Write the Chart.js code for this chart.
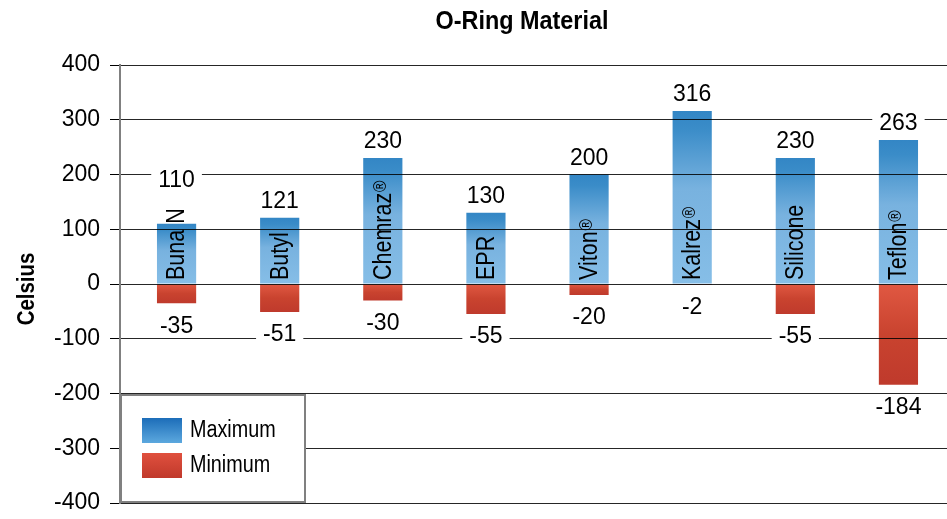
<!DOCTYPE html>
<html>
<head>
<meta charset="utf-8">
<title>O-Ring Material</title>
<script src="https://cdn.jsdelivr.net/npm/chart.js@4.4.1/dist/chart.umd.min.js"></script>
<style>
  html, body { margin: 0; padding: 0; background: #fff; }
  #wrap { width: 947px; height: 519px; }
</style>
</head>
<body>
<div id="wrap"><canvas id="oring" width="947" height="519"></canvas></div>
<script>
// ----- Data -----
const chartTitle = "O-Ring Material";
const axisTitle = "Celsius";
const materials = ["Buna N", "Butyl", "Chemraz®", "EPR", "Viton®", "Kalrez®", "Silicone", "Teflon®"];
const maxTemps = [110, 121, 230, 130, 200, 316, 230, 263];
const minTemps = [-35, -51, -30, -55, -20, -2, -55, -184];
const seriesNames = ["Maximum", "Minimum"];
const yMin = -400, yMax = 400, yStep = 100;

const FONT = "'Liberation Sans', Arial, sans-serif";

// gradient per bar, built from the bar's own pixel extent
const barGradient = (stops, fallback) => (context) => {
  const chart = context.chart;
  const y = chart.scales.y;
  if (!chart.chartArea || !y) return fallback;
  const top = y.getPixelForValue(Math.max(context.raw, 0));
  const bottom = y.getPixelForValue(Math.min(context.raw, 0));
  if (!(bottom - top > 0)) return fallback;
  const g = chart.ctx.createLinearGradient(0, top, 0, bottom);
  stops.forEach(([p, c]) => g.addColorStop(p, c));
  return g;
};
const blueStops = [[0, "#3386c5"], [0.1, "#3a8cc8"], [0.45, "#78b2df"], [1, "#86bee7"]];
const redStops = [[0, "#e05842"], [0.5, "#c9432f"], [1, "#bf3a2c"]];

// condensed-looking text: squeeze along the text direction
function squeezed(ctx, txt, x, y, sx, angle) {
  ctx.save();
  ctx.translate(x, y);
  if (angle) ctx.rotate(angle);
  ctx.scale(sx, 1);
  ctx.fillText(txt, 0, 0);
  ctx.restore();
}

// ----- Labels, title, legend -----
const overlayPlugin = {
  id: "overlay",
  afterLayout(chart) {
    // the categories sit a little to the right of the value axis
    const x = chart.scales.x;
    x.left += 5;
    x.right += 3;
    x.configure();
  },
  afterDraw(chart) {
    const { ctx, scales: { x, y } } = chart;
    const zero = y.getPixelForValue(0);
    ctx.save();
    ctx.fillStyle = "#000";

    // title
    ctx.font = `bold 26px ${FONT}`;
    ctx.textAlign = "center";
    ctx.textBaseline = "middle";
    squeezed(ctx, chartTitle, 522, 22, 0.9);

    // axis title
    ctx.font = `bold 24px ${FONT}`;
    squeezed(ctx, axisTitle, 27, 289, 0.85, -Math.PI / 2);

    const boxed = (txt, cx, cy) => {
      ctx.font = `23px ${FONT}`;
      const w = ctx.measureText(txt).width + 14;
      ctx.fillStyle = "#fff";
      ctx.fillRect(cx - w / 2, cy - 12, w, 24);
      ctx.fillStyle = "#000";
      ctx.textAlign = "center";
      ctx.textBaseline = "middle";
      ctx.fillText(txt, cx, cy + 1);
    };

    const sx = 0.86;
    materials.forEach((name, i) => {
      const cx = x.getPixelForValue(i);
      const sup = name.endsWith("®");
      const base = sup ? name.slice(0, -1) : name;

      // rotated category name inside the bar
      ctx.save();
      ctx.translate(cx + 1, zero - 4);
      ctx.rotate(-Math.PI / 2);
      ctx.scale(sx, 1);
      ctx.fillStyle = "#000";
      ctx.textAlign = "left";
      ctx.textBaseline = "middle";
      ctx.font = `25px ${FONT}`;
      const w = ctx.measureText(base).width;
      ctx.fillText(base, 0, 0);
      let supW = 0;
      if (sup) {
        ctx.font = `18px ${FONT}`;
        supW = ctx.measureText("®").width + 1;
        ctx.fillText("®", w + 1, -3);
      }
      ctx.restore();
      const textTop = zero - 4 - (w + supW) * sx;

      const top = y.getPixelForValue(maxTemps[i]);
      boxed(String(maxTemps[i]), cx, Math.min(top, textTop - 12) - 17);
      const bot = y.getPixelForValue(minTemps[i]);
      boxed(String(minTemps[i]), cx, bot + 22);
    });

    // legend box
    ctx.fillStyle = "#fff";
    ctx.fillRect(121, 395, 184, 107);
    ctx.strokeStyle = "#808080";
    ctx.lineWidth = 2;
    ctx.strokeRect(121, 395, 184, 107);
    const legendStops = [
      [[0, "#1c6db9"], [1, "#5ca8de"]],
      [[0, "#e0503e"], [1, "#c0392b"]],
    ];
    seriesNames.forEach((s, k) => {
      const sy = 418 + k * 35;
      const g = ctx.createLinearGradient(0, sy, 0, sy + 25);
      legendStops[k].forEach(([p, c]) => g.addColorStop(p, c));
      ctx.fillStyle = g;
      ctx.fillRect(142, sy, 40, 25);
      ctx.fillStyle = "#000";
      ctx.font = `23px ${FONT}`;
      ctx.textAlign = "left";
      ctx.textBaseline = "middle";
      squeezed(ctx, s, 190, sy + 13, 0.86);
    });

    ctx.restore();
  }
};

new Chart(document.getElementById("oring"), {
  type: "bar",
  data: {
    labels: materials,
    datasets: [
      {
        label: seriesNames[0],
        data: maxTemps,
        backgroundColor: barGradient(blueStops, "#5a9fd6"),
        barPercentage: 0.38,
        categoryPercentage: 1,
      },
      {
        label: seriesNames[1],
        data: minTemps,
        backgroundColor: barGradient(redStops, "#cf4634"),
        barPercentage: 0.38,
        categoryPercentage: 1,
      },
    ],
  },
  options: {
    responsive: false,
    animation: false,
    layout: { padding: { top: 65, right: 0, bottom: 16, left: 0 } },
    plugins: {
      legend: { display: false },
      title: { display: false },
      tooltip: { enabled: false },
    },
    scales: {
      x: { stacked: true, display: false },
      y: {
        stacked: true,
        min: yMin,
        max: yMax,
        afterFit: (scale) => {
          scale.width = 120;
          scale.paddingTop = 0;
          scale.paddingBottom = 0;
        },
        ticks: {
          stepSize: yStep,
          padding: 10,
          color: "#000",
          font: { family: FONT, size: 23 },
        },
        grid: {
          z: 1,
          color: "rgba(0,0,0,0.85)",
          lineWidth: 1,
          tickLength: 10,
          tickColor: "#000",
        },
        border: { display: true, color: "#808080", width: 2, z: 1 },
      },
    },
  },
  plugins: [overlayPlugin],
});
</script>
</body>
</html>
